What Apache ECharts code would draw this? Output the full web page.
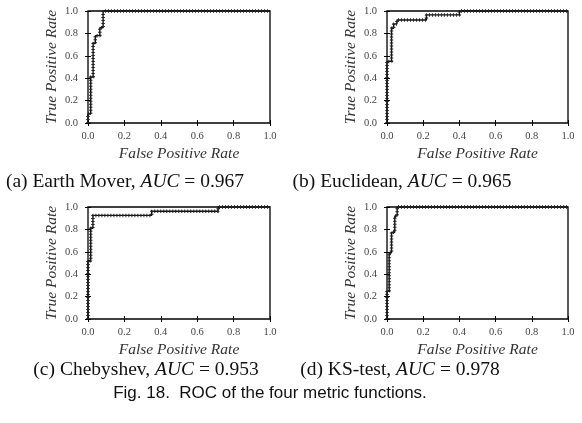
<!DOCTYPE html>
<html>
<head>
<meta charset="utf-8">
<script src="https://cdn.jsdelivr.net/npm/echarts@6/dist/echarts.min.js"></script>
<style>
  html, body { margin: 0; padding: 0; background: #fff; }
  #chart { width: 582px; height: 423px; }
</style>
</head>
<body>
<div id="chart"></div>
<script>
// ROC points (fpr, tpr), drawn as step curves
var earthMover = [[0, 0], [0, 0.08], [0.015, 0.41], [0.028, 0.71], [0.04, 0.78], [0.065, 0.85], [0.083, 1.0], [1, 1]]
var euclidean = [[0, 0], [0, 0.55], [0.025, 0.845], [0.037, 0.885], [0.055, 0.92], [0.218, 0.965], [0.4, 1.0], [1, 1]]
var chebyshev = [[0, 0], [0, 0.52], [0.015, 0.81], [0.027, 0.925], [0.35, 0.962], [0.715, 1.0], [1, 1]]
var ksTest = [[0, 0], [0, 0.25], [0.012, 0.59], [0.025, 0.775], [0.043, 0.92], [0.056, 1.0], [1, 1]]

var panelNames = ['Earth Mover', 'Euclidean', 'Chebyshev', 'KS-test']
var panelLetters = ['a', 'b', 'c', 'd']
var aucValues = ['0.967', '0.965', '0.953', '0.978']
var panelData = [earthMover, euclidean, chebyshev, ksTest]

var grids = [
  { left: 88, top: 11, width: 182, height: 112 },
  { left: 387, top: 11, width: 181, height: 112 },
  { left: 88, top: 207, width: 182, height: 112 },
  { left: 387, top: 207, width: 181, height: 112 }
]
var captionPos = [[125, 182], [402, 182], [146, 370], [400, 370]]

var serif = '"Liberation Serif", "DejaVu Serif", serif'
var chart = echarts.init(document.getElementById('chart'))

var xAxes = []
var yAxes = []
var series = []
var graphics = []

grids.forEach(function (g, i) {
  g.show = true
  g.borderColor = '#000'
  g.borderWidth = 1.3
  g.backgroundColor = 'transparent'

  var base = {
    gridIndex: i,
    type: 'value',
    min: 0,
    max: 1,
    interval: 0.2,
    splitLine: { show: false },
    axisLine: { show: false },
    axisTick: { show: true, inside: true, length: 3, lineStyle: { color: '#000', width: 1 } }
  }
  // bottom / left axes carry the labels
  xAxes.push(Object.assign({}, base, {
    position: 'bottom',
    name: 'False Positive Rate',
    nameLocation: 'middle',
    nameGap: 23,
    nameTextStyle: { fontFamily: serif, fontStyle: 'italic', fontSize: 15.5, color: '#333' },
    axisLabel: { margin: 8, fontFamily: serif, fontSize: 10.5, color: '#444', formatter: function (v) { return v.toFixed(1) } }
  }))
  xAxes.push(Object.assign({}, base, { position: 'top', axisLabel: { show: false } }))
  yAxes.push(Object.assign({}, base, {
    position: 'left',
    name: 'True Positive Rate',
    nameLocation: 'middle',
    nameGap: 28,
    nameTextStyle: { fontFamily: serif, fontStyle: 'italic', fontSize: 15.5, color: '#333' },
    axisLabel: { margin: 10, fontFamily: serif, fontSize: 10.5, color: '#444', formatter: function (v) { return v.toFixed(1) } }
  }))
  yAxes.push(Object.assign({}, base, { position: 'right', axisLabel: { show: false } }))

  // solid curve plus a thick short-dash pass for the "+" marker texture
  series.push({
    type: 'line',
    xAxisIndex: i * 2,
    yAxisIndex: i * 2,
    data: panelData[i],
    step: 'end',
    symbol: 'none',
    clip: false,
    lineStyle: { color: '#111', width: 1.4 }
  })
  series.push({
    type: 'line',
    xAxisIndex: i * 2,
    yAxisIndex: i * 2,
    data: panelData[i],
    step: 'end',
    symbol: 'none',
    clip: false,
    lineStyle: { color: '#222', width: 3.5, type: [1, 2], cap: 'butt' }
  })

  graphics.push({
    type: 'text',
    x: captionPos[i][0],
    y: captionPos[i][1],
    style: {
      text: '(' + panelLetters[i] + ') ' + panelNames[i] + ', {i|AUC} = ' + aucValues[i],
      align: 'center',
      verticalAlign: 'middle',
      fontFamily: serif,
      fontSize: 19.5,
      fill: '#111',
      rich: { i: { fontFamily: serif, fontSize: 19.5, fontStyle: 'italic', fill: '#111' } }
    }
  })
})

graphics.push({
  type: 'text',
  x: 270,
  y: 393,
  style: {
    text: 'Fig. 18.  ROC of the four metric functions.',
    align: 'center',
    verticalAlign: 'middle',
    fontFamily: '"Liberation Sans", "Open Sans", sans-serif',
    fontSize: 17,
    fill: '#111'
  }
})

chart.setOption({
  animation: false,
  backgroundColor: '#fff',
  grid: grids,
  xAxis: xAxes,
  yAxis: yAxes,
  series: series,
  graphic: graphics
})
</script>
</body>
</html>
